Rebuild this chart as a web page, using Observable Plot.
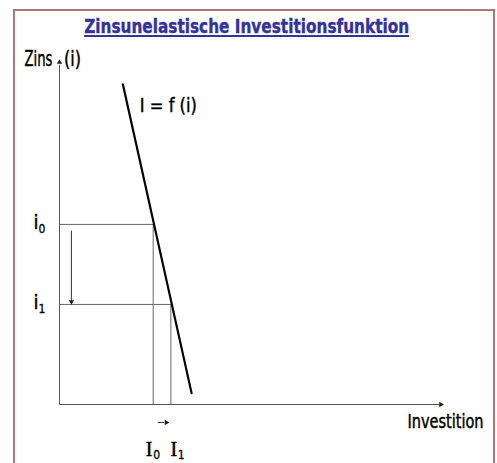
<!DOCTYPE html>
<html><head><meta charset="utf-8">
<script src="https://cdn.jsdelivr.net/npm/d3@7"></script>
<script src="https://cdn.jsdelivr.net/npm/@observablehq/plot@0.6"></script>
<style>
html,body{margin:0;padding:0;background:#fff;overflow:hidden;}
#wrap{position:relative;width:497px;height:463px;}
#frame{position:absolute;left:13px;top:9px;width:482px;height:470px;border:2px solid #b07474;box-sizing:border-box;}
#titlebox{position:absolute;left:0;width:493px;top:15px;text-align:center;line-height:22px;}
#title{display:inline-block;font:bold 19px "DejaVu Sans",sans-serif;color:#333399;-webkit-text-stroke:0.4px #333399;text-decoration:underline;text-decoration-thickness:2px;text-underline-offset:2px;transform-origin:center;white-space:nowrap;}
#chart{position:absolute;left:0;top:0;}
</style></head><body>
<div id="wrap"><div id="frame"></div><div id="chart"></div><div id="titlebox"><span id="title"></span></div></div>
<script>
// ---- data ----
const titleText = "Zinsunelastische Investitionsfunktion";
const yAxisLabel = "Zins";
const yAxisSymbol = "(i)";
const xAxisLabel = "Investition";
const functionLabel = "I = f (i)";
// investment function I = f(i): two end points (investment, interest)
const curveInvest = [16.5, 34.4];
const curveRate = [92.8, 3.3];
// levels
const levelIndex = ["0", "1"];
const rateLevels = [52.2, 29.0];      // i0, i1
const investLevels = [24.4, 29.0];    // I0, I1
// arrow for rate decrease (x position, from, to)
const rateArrow = [3.1, 50.4, 29.0];
// arrow for investment increase (y position, from, to)
const investArrow = [-5.2, 25.6, 27.8];

const titleEl = document.getElementById("title");
titleEl.textContent = titleText;

const F = "'DejaVu Sans Condensed','DejaVu Sans',sans-serif";
const FS = "'Liberation Serif',serif";
const ink = {fill: "#000", stroke: "#000", strokeWidth: 0.45};

const curve = curveInvest.map((x, k) => ({x, y: curveRate[k]}));
const levels = levelIndex.map((n, k) => ({n, i: rateLevels[k], I: investLevels[k]}));

const plot = Plot.plot({
  width: 497, height: 463,
  marginLeft: 59, marginRight: 54, marginTop: 59, marginBottom: 59,
  x: {domain: [0, 100], axis: null},
  y: {domain: [0, 100], axis: null},
  style: {fontFamily: F, background: "transparent", overflow: "visible"},
  marks: [
    // axes
    Plot.link([0], {x1: 0, y1: 0, x2: 0, y2: 98.5, stroke: "#555", strokeWidth: 1}),
    Plot.link([0], {x1: 0, y1: 0, x2: 99, y2: 0, stroke: "#555", strokeWidth: 1}),
    Plot.dot([0], {x: 0, y: 99.2, symbol: "triangle", r: 2, fill: "#222", stroke: null}),
    Plot.dot([0], {x: 99.3, y: 0, symbol: "triangle", r: 2, fill: "#222", stroke: null, rotate: 90}),
    // guide lines
    Plot.link(levels, {x1: 0, y1: "i", x2: "I", y2: "i", stroke: "#666", strokeWidth: 1}),
    Plot.link(levels, {x1: "I", y1: 0, x2: "I", y2: "i", stroke: "#666", strokeWidth: 1}),
    // function line
    Plot.line(curve, {x: "x", y: "y", stroke: "#000", strokeWidth: 2.2}),
    // rate arrow
    Plot.link([0], {x1: rateArrow[0], y1: rateArrow[1], x2: rateArrow[0], y2: rateArrow[2] + 1, stroke: "#333", strokeWidth: 1}),
    Plot.dot([0], {x: rateArrow[0], y: rateArrow[2] + 0.8, symbol: "triangle", r: 2, fill: "#222", stroke: null, rotate: 180}),
    // investment arrow
    Plot.link([0], {x1: investArrow[1], y1: investArrow[0], x2: investArrow[2] - 0.6, y2: investArrow[0], stroke: "#333", strokeWidth: 1}),
    Plot.dot([0], {x: investArrow[2], y: investArrow[0], symbol: "triangle", r: 2, fill: "#222", stroke: null, rotate: 90}),
    // axis labels
    Plot.text([yAxisLabel], {x: 0, y: 100, text: d => d, textAnchor: "end", dx: -7, dy: 0, fontSize: 21, ...ink}),
    Plot.text([yAxisSymbol], {x: 0, y: 100, text: d => d, textAnchor: "start", dx: 4.5, dy: 0, fontSize: 21, ...ink}),
    Plot.text([xAxisLabel], {x: 100, y: 0, text: d => d, textAnchor: "end", dx: 40, dy: 16.6, fontSize: 20, ...ink}),
    // function label
    Plot.text([functionLabel], {x: curveInvest[0], y: curveRate[0], text: d => d, textAnchor: "start", dx: 17, dy: 21.5, fontSize: 20, ...ink}),
    // rate labels
    Plot.text(levels, {x: 0, y: "i", text: () => "i", textAnchor: "start", dx: -26, dy: -2, fontSize: 20, ...ink}),
    Plot.text(levels, {x: 0, y: "i", text: "n", textAnchor: "start", dx: -21, dy: 5, fontSize: 12, ...ink, strokeWidth: 0.3}),
    // investment labels
    Plot.text(levels.slice(0, 1), {x: "I", y: 0, text: () => "I", textAnchor: "middle", dx: -4, dy: 45, fontSize: 20, fontFamily: FS, ...ink}),
    Plot.text(levels.slice(0, 1), {x: "I", y: 0, text: "n", textAnchor: "start", dx: 0, dy: 51, fontSize: 12, ...ink, strokeWidth: 0.3}),
    Plot.text(levels.slice(1), {x: "I", y: 0, text: () => "I", textAnchor: "middle", dx: 3, dy: 45, fontSize: 20, fontFamily: FS, ...ink}),
    Plot.text(levels.slice(1), {x: "I", y: 0, text: "n", textAnchor: "start", dx: 7, dy: 51, fontSize: 12, ...ink, strokeWidth: 0.3})
  ]
});
document.getElementById("chart").appendChild(plot);

// narrow the labels to match the condensed typeface of the original
const fitWidths = new Map([[yAxisLabel, 28], [yAxisSymbol, 17], [functionLabel, 57], [xAxisLabel, 76]]);
plot.querySelectorAll("text").forEach(t => {
  const w = fitWidths.get(t.textContent);
  if (w) { t.setAttribute("textLength", w); t.setAttribute("lengthAdjust", "spacingAndGlyphs"); }
});
const tw = titleEl.getBoundingClientRect().width;
titleEl.style.transform = `scaleX(${325 / tw})`;
</script>
</body></html>
